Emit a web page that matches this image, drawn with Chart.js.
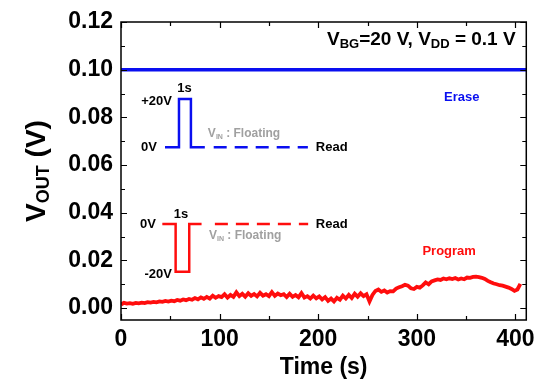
<!DOCTYPE html>
<html lang="en">
<head>
<meta charset="UTF-8">
<title>VOUT vs time</title>
<script src="https://cdn.jsdelivr.net/npm/chart.js@4.4.0/dist/chart.umd.min.js"></script>
<style>
  html, body { margin: 0; padding: 0; background: #fff; }
  #wrap { width: 541px; height: 381px; }
</style>
</head>
<body>
<div id="wrap"><canvas id="myChart" width="541" height="381"></canvas></div>
<script>
// data
var timeS = [0,3,6,9,12,15,18,21,24,27,30,33,36,39,42,45,48,51,54,57,60,63,66,69,72,75,78,81,84,87,
  90,93,96,99,102,105,108,111,114,117,120,123,126,129,132,135,138,141,144,147,150,153,156,159,162,165,168,171,174,177,
  180,183,186,189,192,195,198,201,204,207,210,213,216,219,222,225,228,231,234,237,240,243,246,249,252,255,258,261,264,267,
  270,273,276,279,282,285,288,291,294,297,300,303,306,309,312,315,318,321,324,327,330,333,336,339,342,345,348,351,354,357,
  360,363,366,369,372,375,378,381,384,387,390,393,396,399,402,405];
var programV = [0.0015,0.0022,0.0019,0.0021,0.0018,0.0022,0.0020,0.0023,0.0021,0.0025,0.0023,0.0026,0.0024,0.0028,0.0026,0.0030,0.0027,0.0031,0.0029,0.0034,
  0.0031,0.0036,0.0033,0.0038,0.0035,0.0042,0.0037,0.0045,0.0039,0.0047,0.0040,0.0052,0.0043,0.0050,0.0046,0.0058,0.0044,0.0055,0.0047,0.0066,
  0.0050,0.0060,0.0048,0.0062,0.0051,0.0059,0.0049,0.0064,0.0052,0.0058,0.0050,0.0067,0.0051,0.0061,0.0054,0.0058,0.0046,0.0060,0.0047,0.0055,
  0.0045,0.0063,0.0044,0.0050,0.0040,0.0052,0.0041,0.0049,0.0036,0.0046,0.0030,0.0040,0.0028,0.0043,0.0035,0.0052,0.0040,0.0055,0.0042,0.0060,
  0.0048,0.0062,0.0050,0.0058,0.0028,0.0055,0.0072,0.0078,0.0068,0.0074,0.0065,0.0071,0.0070,0.0082,0.0087,0.0092,0.0098,0.0094,0.0083,0.0080,
  0.0089,0.0086,0.0095,0.0108,0.0100,0.0112,0.0116,0.0120,0.0118,0.0124,0.0121,0.0125,0.0122,0.0126,0.0120,0.0124,0.0121,0.0128,0.0127,0.0131,
  0.0132,0.0130,0.0127,0.0122,0.0114,0.0108,0.0103,0.0100,0.0096,0.0094,0.0090,0.0086,0.0080,0.0072,0.0078,0.0102];
var eraseT = [0, 411];
var eraseV = [0.10, 0.10];

// inset pulse sketches (in axis units)
var erasePulseT = [44.6, 58.8, 58.8, 70.9, 70.9, 85];
var erasePulseV = [0.0675, 0.0675, 0.0877, 0.0877, 0.0675, 0.0675];
var eraseReadT = [94, 189.5];
var eraseReadV = [0.0675, 0.0675];
var progPulseT = [41.9, 55.4, 55.4, 69.2, 69.2, 81.7];
var progPulseV = [0.0353, 0.0353, 0.01525, 0.01525, 0.0353, 0.0353];
var progReadT = [95.2, 189.8];
var progReadV = [0.0353, 0.0353];

var xTicks = [0, 100, 200, 300, 400];
var xMinor = [50, 150, 250, 350];
var yTicks = [0, 0.02, 0.04, 0.06, 0.08, 0.10, 0.12];
var yMinor = [0.01, 0.03, 0.05, 0.07, 0.09, 0.11];

function pts(xs, ys) {
  return xs.map(function(x, i) { return {x: x, y: ys[i]}; });
}

var BLUE = '#0a0ff0';
var RED = '#ff0d0d';
var GREY = '#a0a0a0';
var FONT = '"Liberation Sans", Arial, sans-serif';

// text notes: [t, v, text, colour, align]
var notes = [
  [64.3, 0.0920, '1s', '#000', 'center'],
  [51.7, 0.0865, '+20V', '#000', 'right'],
  [36.5, 0.0673, '0V', '#000', 'right'],
  [197.6, 0.0674, 'Read', '#000', 'left'],
  [60.8, 0.0391, '1s', '#000', 'center'],
  [35.5, 0.0349, '0V', '#000', 'right'],
  [51.7, 0.0143, '-20V', '#000', 'right'],
  [197.6, 0.0349, 'Read', '#000', 'left'],
  [345.5, 0.0882, 'Erase', BLUE, 'center'],
  [332.8, 0.0237, 'Program', RED, 'center']
];
var floatNotes = [[88.1, 0.0731], [89.2, 0.0302]];

function drawSub(ctx, x, y, parts) {
  // parts: [text, size, dy]
  parts.forEach(function(p) {
    ctx.font = 'bold ' + p[1] + 'px ' + FONT;
    ctx.fillText(p[0], x, y + p[2]);
    x += ctx.measureText(p[0]).width;
  });
  return x;
}
function widthSub(ctx, parts) {
  var w = 0;
  parts.forEach(function(p) {
    ctx.font = 'bold ' + p[1] + 'px ' + FONT;
    w += ctx.measureText(p[0]).width;
  });
  return w;
}

var framePlugin = {
  id: 'frame',
  afterDraw: function(chart) {
    var ctx = chart.ctx, a = chart.chartArea;
    var xs = chart.scales.x, ys = chart.scales.y;
    ctx.save();
    ctx.strokeStyle = '#000';
    ctx.lineWidth = 1.5;
    ctx.strokeRect(a.left, a.top, a.right - a.left, a.bottom - a.top);
    ctx.lineWidth = 1.2;
    function tickX(v, len) {
      var p = Math.round(xs.getPixelForValue(v)) + 0.5;
      ctx.beginPath();
      ctx.moveTo(p, a.bottom); ctx.lineTo(p, a.bottom - len);
      ctx.moveTo(p, a.top); ctx.lineTo(p, a.top + len);
      ctx.stroke();
    }
    function tickY(v, len) {
      var p = Math.round(ys.getPixelForValue(v)) + 0.5;
      ctx.beginPath();
      ctx.moveTo(a.left, p); ctx.lineTo(a.left + len, p);
      ctx.moveTo(a.right, p); ctx.lineTo(a.right - len, p);
      ctx.stroke();
    }
    xTicks.forEach(function(v) { tickX(v, 6); });
    xMinor.forEach(function(v) { tickX(v, 4); });
    yTicks.forEach(function(v) { tickY(v, 6); });
    yMinor.forEach(function(v) { tickY(v, 4); });

    // notes
    ctx.textBaseline = 'middle';
    notes.forEach(function(n) {
      ctx.font = 'bold 13px ' + FONT;
      ctx.fillStyle = n[3];
      ctx.textAlign = n[4];
      ctx.fillText(n[2], xs.getPixelForValue(n[0]), ys.getPixelForValue(n[1]));
    });
    ctx.textAlign = 'left';
    ctx.fillStyle = GREY;
    floatNotes.forEach(function(n) {
      drawSub(ctx, xs.getPixelForValue(n[0]), ys.getPixelForValue(n[1]),
        [['V', 12, 0], ['IN', 7, 3], [' : Floating', 12, 0]]);
    });

    // condition text, top right
    ctx.fillStyle = '#000';
    var cond = [['V', 19, 0], ['BG', 13, 5], ['=20 V, V', 19, 0], ['DD', 13, 5], [' = 0.1 V', 19, 0]];
    var w = widthSub(ctx, cond);
    drawSub(ctx, xs.getPixelForValue(400.2) - w, ys.getPixelForValue(0.1126), cond);

    // y title, rotated
    var yt = [['V', 28, 0], ['OUT', 18, 7], [' (V)', 28, 0]];
    var tw = widthSub(ctx, yt);
    ctx.translate(37, (a.top + a.bottom) / 2);
    ctx.rotate(-Math.PI / 2);
    drawSub(ctx, -tw / 2, 0, yt);
    ctx.restore();
  }
};

function lineSet(data, colour, width, dash) {
  return {
    data: data, borderColor: colour, backgroundColor: colour, borderWidth: width,
    borderDash: dash || [], pointRadius: 0, tension: 0, fill: false
  };
}

var ctx = document.getElementById('myChart').getContext('2d');
var chart = new Chart(ctx, {
  type: 'line',
  data: {
    datasets: [
      lineSet(pts(eraseT, eraseV), BLUE, 3.5),
      lineSet(pts(timeS, programV), RED, 3.8),
      lineSet(pts(erasePulseT, erasePulseV), BLUE, 2.5),
      lineSet(pts(eraseReadT, eraseReadV), BLUE, 2.5, [13, 8]),
      lineSet(pts(progPulseT, progPulseV), RED, 2.5),
      lineSet(pts(progReadT, progReadV), RED, 2.5, [13, 8])
    ]
  },
  options: {
    responsive: false,
    animation: false,
    layout: { padding: { top: 22, right: 14, left: 0, bottom: 0 } },
    plugins: { legend: { display: false }, tooltip: { enabled: false } },
    scales: {
      x: {
        type: 'linear', min: 0, max: 411,
        grid: { display: false, drawTicks: false },
        border: { display: false },
        afterBuildTicks: function(s) { s.ticks = xTicks.map(function(v) { return {value: v}; }); },
        afterFit: function(s) { s.height = 61; },
        ticks: {
          padding: 6, color: '#000', maxRotation: 0,
          font: { family: FONT, size: 23, weight: 'bold' },
          callback: function(v) { return String(v); }
        },
        title: {
          display: true, text: 'Time (s)', color: '#000', padding: { top: 0, bottom: 0 },
          font: { family: FONT, size: 23, weight: 'bold' }
        }
      },
      y: {
        type: 'linear', min: -0.005, max: 0.12,
        grid: { display: false, drawTicks: false },
        border: { display: false },
        afterBuildTicks: function(s) { s.ticks = yTicks.map(function(v) { return {value: v}; }); },
        afterFit: function(s) { s.width = 121; },
        ticks: {
          padding: 8, color: '#000',
          font: { family: FONT, size: 23, weight: 'bold' },
          callback: function(v) { return Number(v).toFixed(2); }
        }
      }
    }
  },
  plugins: [framePlugin]
});
</script>
</body>
</html>
